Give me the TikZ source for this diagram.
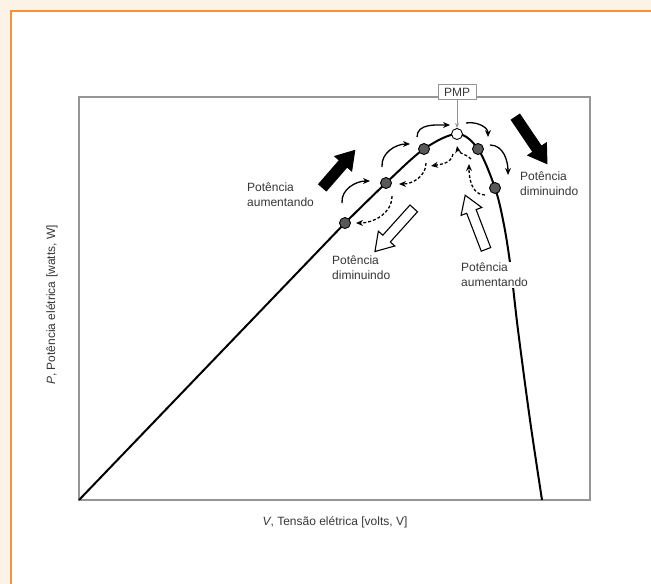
\documentclass[tikz,border=0pt]{standalone}
\usepackage{fontspec}
\setmainfont{Liberation Sans}
\usetikzlibrary{arrows.meta,shapes.arrows}
\definecolor{framecream}{RGB}{252,243,230}
\definecolor{frameorange}{RGB}{247,146,60}
\definecolor{txtgray}{RGB}{55,55,55}
\definecolor{axisgray}{RGB}{150,150,150}

\begin{document}
\begin{tikzpicture}[x=1pt,y=1pt,
    curvept/.style={circle,draw,line width=0.9pt,fill=black!65,inner sep=0pt,minimum size=11pt},
    goarrow/.style={-{Stealth[length=7pt,width=6pt]},line width=1.3pt},
    retarrow/.style={goarrow,dash pattern=on 3pt off 2pt},
    lbl/.style={align=left,anchor=west,fill=white,inner sep=1pt,font=\fontsize{12}{15}\selectfont,text=txtgray},
    bigarrow/.style={single arrow,draw,line width=1.1pt,inner xsep=0pt,inner ysep=4.5pt,
      minimum width=21pt,single arrow head extend=6pt,single arrow tip angle=65}
  ]
  \useasboundingbox (0,0) rectangle (651,-584);
  % frame
  \fill[framecream] (0,0) rectangle (651,-584);
  \fill[white] (11,-11) rectangle (651,-584);
  \draw[frameorange,line width=2pt] (11,-584) -- (11,-11) -- (651,-11);

  % axes box
  \draw[axisgray,line width=1.6pt] (79,-97) rectangle (590,-500);
  \node[lbl,anchor=center] (xlab) at (335,-522) {\textit{V}, Tensão elétrica [volts, V]};
  \node[lbl,anchor=center,rotate=90] (ylab) at (52,-305) {\textit{P}, Potência elétrica [watts, W]};

  % P-V curve
  \draw[line width=2pt] (79,-500) -- plot[smooth,tension=0.55] coordinates {(345,-223) (386,-183)
    (424,-149) (457,-134) (478,-149) (495,-188) (504,-225) (511,-270) (518,-330) (530,-420) (542,-500)};

  \node[curvept] (p1) at (345,-223) {};
  \node[curvept] (p2) at (386,-183) {};
  \node[curvept] (p3) at (424,-149) {};
  \node[curvept,fill=white] (pmp) at (457,-134) {};
  \node[curvept] (p5) at (478,-149) {};
  \node[curvept] (p6) at (495,-188) {};

  \node[draw=axisgray,fill=white,line width=0.8pt,font=\fontsize{12}{14}\selectfont,text=txtgray,
    inner xsep=6pt,inner ysep=2pt,minimum height=15pt] (pmplbl) at (457,-92) {PMP};
  \draw[axisgray,line width=0.8pt,-{Stealth[length=5pt,width=4pt]}] (pmplbl) -- (pmp);

  % steps towards the peak
  \coordinate (a1) at (342,-203); \coordinate (b1) at (370,-181);
  \coordinate (a2) at (382,-167); \coordinate (b2) at (410,-144);
  \coordinate (a3) at (417,-137); \coordinate (b3) at (450,-125);
  \coordinate (a4) at (466,-123); \coordinate (b4) at (488,-137);
  \coordinate (a5) at (490,-145); \coordinate (b5) at (508,-175);
  \draw[goarrow] (a1) to[out=95,in=180] (b1);
  \draw[goarrow] (a2) to[out=95,in=180] (b2);
  \draw[goarrow] (a3) to[out=90,in=180] (b3);
  \draw[goarrow] (a4) to[out=10,in=90] (b4);
  \draw[goarrow] (a5) to[out=0,in=90] (b5);

  % steps back
  \coordinate (c1) at (392,-196); \coordinate (d1) at (356,-223);
  \coordinate (c2) at (426,-163); \coordinate (d2) at (399,-184);
  \coordinate (c3) at (453,-154); \coordinate (d3) at (431,-166);
  \coordinate (c4) at (471,-159); \coordinate (d4) at (457,-146);
  \coordinate (c5) at (485,-195); \coordinate (d5) at (469,-164);
  \draw[retarrow] (c1) to[out=-90,in=0] (d1);
  \draw[retarrow] (c2) to[out=-90,in=0] (d2);
  \draw[retarrow] (c3) to[out=-100,in=10] (d3);
  \draw[retarrow] (c4) to[out=135,in=-80] (d4);
  \draw[retarrow] (c5) to[out=180,in=-90] (d5);

  % big arrows
  \node[bigarrow,fill=black,minimum height=49pt,rotate=49] (upleft) at (336,-172) {};
  \node[bigarrow,fill=black,minimum height=56pt,rotate=-56] (downright) at (529,-137) {};
  \node[bigarrow,fill=white,minimum height=58pt,rotate=228] (downleft) at (397,-227) {};
  \node[bigarrow,fill=white,minimum height=58pt,rotate=111] (upright) at (477,-226) {};

  \node[lbl] (incleft) at (246,-195) {Potência\\aumentando};
  \node[lbl] (decleft) at (331,-268) {Potência\\diminuindo};
  \node[lbl] (incright) at (460,-275) {Potência\\aumentando};
  \node[lbl] (decright) at (519,-184) {Potência\\diminuindo};
\end{tikzpicture}
\end{document}
